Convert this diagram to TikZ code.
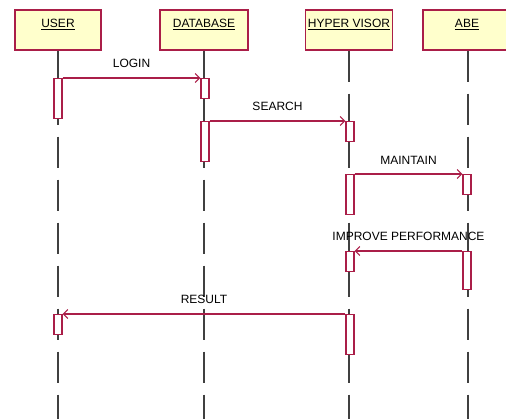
\documentclass[tikz,border=0pt]{standalone}
\usepackage{fontspec}
\setmainfont{Liberation Sans}
\usetikzlibrary{arrows.meta}
\definecolor{crimson}{RGB}{170,30,72}
\definecolor{paleyellow}{RGB}{255,255,204}
\definecolor{lifegrey}{RGB}{64,64,64}
\begin{document}
\begin{tikzpicture}[x=1pt, y=-1pt,
    every node/.style={font=\fontsize{12}{14}\selectfont},
    headbox/.style={draw=crimson, fill=paleyellow, line width=1.2pt, minimum width=86pt,
        inner sep=0pt, text height=18pt, text depth=22pt},
    actbox/.style={draw=crimson, fill=white, line width=1.1pt, minimum width=8pt, inner sep=0pt, anchor=north},
    lifeline/.style={draw=lifegrey, line width=1.4pt, dash pattern=on 31pt off 12pt},
    msg/.style={draw=crimson, line width=1.1pt, -{Straight Barb[length=4.5pt, width=9pt]}}]
    \useasboundingbox (0,0) rectangle (506,419);

    \node[headbox] (user) at (58, 30) {\underline{USER}};
    \node[headbox, minimum width=88pt] (db) at (204, 30) {\underline{DATABASE}};
    \node[headbox, minimum width=87pt] (hyp) at (349, 30) {\underline{HYPER VISOR}};
    \node[headbox, minimum width=88pt] (abe) at (467, 30) {\underline{ABE}};

    \coordinate (bot) at (0, 425);
    \draw[lifeline] (user.south) -- (user.south |- bot);
    \draw[lifeline] (db.south) -- (db.south |- bot);
    \draw[lifeline] (hyp.south) -- (hyp.south |- bot);
    \draw[lifeline] (abe.south -| 468, 0) -- (468, 425);

    % activations
    \node[actbox, minimum height=40pt] (u1) at (58, 78) {};
    \node[actbox, minimum height=20pt] (d1) at (205, 78) {};
    \node[actbox, minimum height=40pt] (d2) at (205, 121) {};
    \node[actbox, minimum height=20pt] (h1) at (350, 121) {};
    \node[actbox, minimum height=40pt] (h2) at (350, 174) {};
    \node[actbox, minimum height=20pt] (b1) at (467, 174) {};
    \node[actbox, minimum height=20pt] (h3) at (350, 251) {};
    \node[actbox, minimum height=38pt] (b2) at (467, 251) {};
    \node[actbox, minimum height=20pt] (u2) at (58, 314) {};
    \node[actbox, minimum height=40pt] (h4) at (350, 314) {};

    % messages
    \draw[msg] (u1.north east) -- (d1.north west) node[midway, above=6pt] {LOGIN};
    \draw[msg] (d2.north east) -- (h1.north west) node[midway, above=6pt] {SEARCH};
    \draw[msg] (h2.north east) -- (b1.north west) node[midway, above=6pt] {MAINTAIN};
    \draw[msg] (b2.north west) -- (h3.north east) node[midway, above=6pt] {IMPROVE PERFORMANCE};
    \draw[msg] (h4.north west) -- (u2.north east) node[midway, above=6pt] {RESULT};
\end{tikzpicture}
\end{document}
